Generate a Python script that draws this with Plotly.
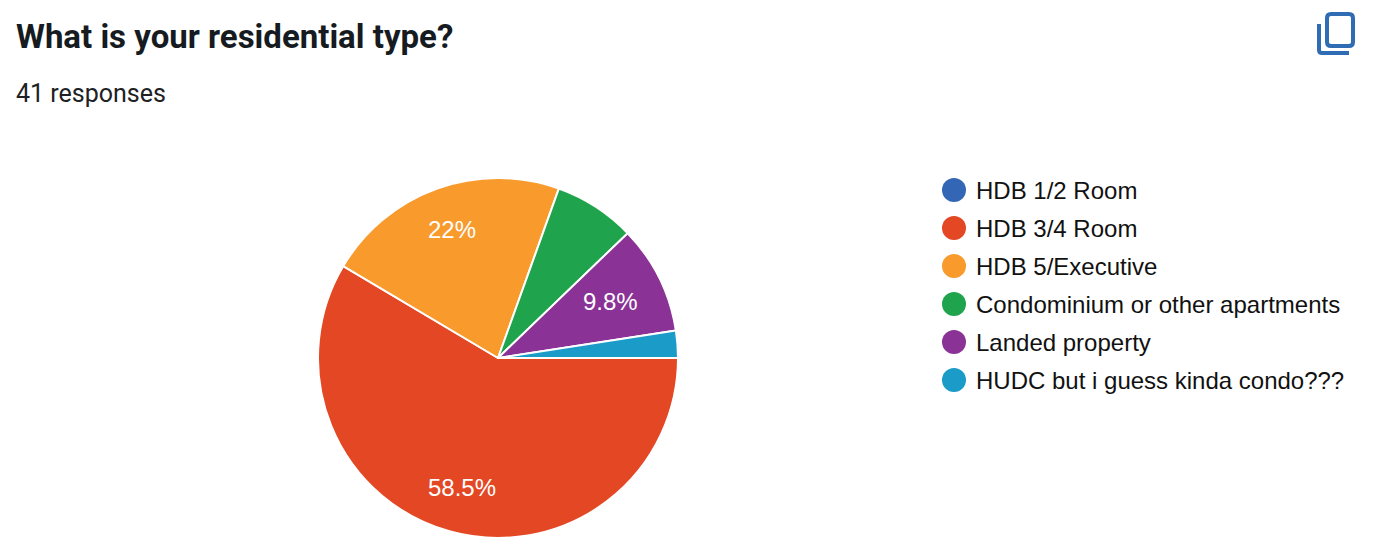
import math
import plotly.graph_objects as go

W, H = 1378, 560
labels = ["HDB 1/2 Room", "HDB 3/4 Room", "HDB 5/Executive",
          "Condominium or other apartments", "Landed property",
          "HUDC but i guess kinda condo???"]
values = [0, 24, 9, 3, 4, 1]
colors = ["#3366b5", "#e34723", "#f89a2c", "#1fa34c", "#8a3296", "#1a9bc8"]
slice_text = ["", "58.5%", "22%", "", "9.8%", ""]
title = "What is your residential type?"
subtitle = "41 responses"

def px(x): return x / W
def py(y): return 1 - y / H

CX, CY, R = 498, 358, 180
fig = go.Figure(go.Pie(
    labels=labels, values=values, sort=False, direction="clockwise", rotation=90,
    marker=dict(colors=colors, line=dict(color="white", width=2)),
    textinfo="none",
    domain=dict(x=[px(CX - R), px(CX + R)], y=[py(CY + R), py(CY - R)]),
    showlegend=False, hoverinfo="label+percent",
))

shapes, annotations = [], []
annotations.append(dict(text=f"<b>{title}</b>", x=px(14), y=py(37), xref="paper", yref="paper",
                        xanchor="left", yanchor="middle", showarrow=False,
                        font=dict(family="Roboto", size=33, color="#161b22")))
annotations.append(dict(text=subtitle, x=px(14), y=py(94), xref="paper", yref="paper",
                        xanchor="left", yanchor="middle", showarrow=False,
                        font=dict(family="Roboto", size=25, color="#202124")))

# percentage labels placed along each slice's mid-angle
total = sum(values)
cum = 0
for v, t in zip(values, slice_text):
    mid = (cum + v / 2) / total * 2 * math.pi
    cum += v
    if t:
        frac = 0.70 if v / total < 0.15 else 0.75
        annotations.append(dict(text=t, x=px(CX + frac * R * math.cos(mid)),
                                y=py(CY + frac * R * math.sin(mid) - 1),
                                xref="paper", yref="paper", xanchor="center", yanchor="middle",
                                showarrow=False,
                                font=dict(family="Liberation Sans", size=24, color="white")))

for i, (lab, col) in enumerate(zip(labels, colors)):
    yc = 190 + 38 * i
    shapes.append(dict(type="circle", xref="paper", yref="paper", fillcolor=col, line_width=0,
                       x0=px(942), x1=px(966), y0=py(yc + 12), y1=py(yc - 12)))
    annotations.append(dict(text=lab, x=px(974), y=py(yc), xref="paper", yref="paper",
                            xanchor="left", yanchor="middle", showarrow=False,
                            font=dict(family="Liberation Sans", size=24, color="#111111")))

# copy icon
icon = "#2f6cb3"
shapes.append(dict(type="path", xref="paper", yref="paper", line=dict(color=icon, width=4),
                   path=f"M {px(1331)} {py(14)} L {px(1349)} {py(14)} Q {px(1353)} {py(14)} {px(1353)} {py(18)} "
                        f"L {px(1353)} {py(42)} Q {px(1353)} {py(46)} {px(1349)} {py(46)} "
                        f"L {px(1331)} {py(46)} Q {px(1327)} {py(46)} {px(1327)} {py(42)} "
                        f"L {px(1327)} {py(18)} Q {px(1327)} {py(14)} {px(1331)} {py(14)} Z"))
shapes.append(dict(type="path", xref="paper", yref="paper", line=dict(color=icon, width=4),
                   path=f"M {px(1319)} {py(24)} L {px(1319)} {py(50)} Q {px(1319)} {py(53)} {px(1322)} {py(53)} L {px(1349)} {py(53)}"))

fig.update_layout(width=W, height=H, margin=dict(l=0, r=0, t=0, b=0),
                  paper_bgcolor="white", plot_bgcolor="white",
                  shapes=shapes, annotations=annotations)
fig.write_html("out.html", config=dict(displayModeBar=False),
               post_script="document.body.style.margin='0';document.documentElement.style.overflow='hidden';")
